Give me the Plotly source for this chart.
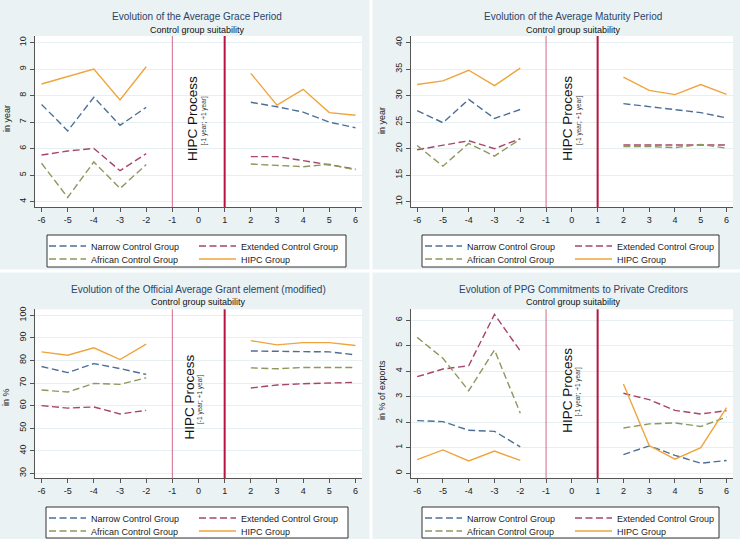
import plotly.graph_objects as go

W, H = 740, 539
FONT = "Liberation Sans, Arial, sans-serif"

# ---------------- data ----------------
years_pre = [-6, -5, -4, -3, -2]
years_post = [2, 3, 4, 5, 6]
x_ticks = list(range(-6, 7))
hipc_window = [-1, 1]

series_names = ["Narrow Control Group", "Extended Control Group",
                "African Control Group", "HIPC Group"]

# Evolution of the Average Grace Period (in year)
grace_narrow = [7.67, 6.67, 7.94, 6.88, 7.56, 7.75, 7.58, 7.38, 7.00, 6.79]
grace_extended = [5.76, 5.91, 6.01, 5.17, 5.81, 5.70, 5.70, 5.55, 5.40, 5.23]
grace_african = [5.45, 4.16, 5.50, 4.50, 5.40, 5.42, 5.38, 5.32, 5.41, 5.20]
grace_hipc = [8.44, 8.72, 9.00, 7.84, 9.09, 8.84, 7.64, 8.24, 7.36, 7.26]
grace_yticks = [4, 5, 6, 7, 8, 9, 10]

# Evolution of the Average Maturity Period (in year)
mat_narrow = [27.2, 24.9, 29.3, 25.7, 27.4, 28.5, 27.9, 27.3, 26.8, 25.8]
mat_extended = [19.8, 20.6, 21.5, 20.0, 21.9, 20.7, 20.7, 20.8, 20.8, 20.7]
mat_african = [20.6, 16.7, 21.0, 18.6, 21.8, 20.4, 20.4, 20.2, 20.8, 20.1]
mat_hipc = [32.1, 32.8, 34.8, 31.9, 35.2, 33.5, 31.0, 30.2, 32.1, 30.25]
mat_yticks = [10, 15, 20, 25, 30, 35, 40]

# Evolution of the Official Average Grant element (modified) (in %)
grant_narrow = [77.3, 74.6, 78.6, 76.4, 73.8, 84.2, 83.9, 83.9, 83.8, 82.5]
grant_extended = [60.0, 58.9, 59.4, 56.3, 57.9, 67.8, 69.1, 69.7, 70.1, 70.3]
grant_african = [66.9, 66.0, 69.8, 69.4, 72.3, 76.7, 76.3, 76.9, 76.9, 76.9]
grant_hipc = [83.8, 82.3, 85.6, 80.4, 87.2, 88.8, 86.9, 87.9, 87.9, 86.6]
grant_yticks = [30, 40, 50, 60, 70, 80, 90, 100]

# Evolution of PPG Commitments to Private Creditors (in % of exports)
ppg_narrow = [2.06, 2.02, 1.68, 1.64, 1.03, 0.73, 1.07, 0.70, 0.39, 0.50]
ppg_extended = [3.78, 4.08, 4.21, 6.22, 4.79, 3.13, 2.88, 2.46, 2.32, 2.45]
ppg_african = [5.32, 4.50, 3.23, 4.83, 2.35, 1.77, 1.93, 1.97, 1.83, 2.20]
ppg_hipc = [0.53, 0.91, 0.48, 0.87, 0.50, 3.49, 1.08, 0.55, 1.00, 2.57]
ppg_yticks = [0, 1, 2, 3, 4, 5, 6]

# ---------------- styling ----------------
colors = ["#4d6f97", "#a8456b", "#8c985c", "#efa43c"]
dashes = ["7px,3.5px", "7px,3.5px", "7px,3.5px", "solid"]
BG = "#eaf2f3"


def px(x):
    return x / W


def py(y):
    return 1 - y / H


panels = [
    dict(title="Evolution of the Average Grace Period", ytitle="in year",
         data=[grace_narrow, grace_extended, grace_african, grace_hipc],
         yticks=grace_yticks, yrange=[3.8, 10.25],
         xdom=(35, 362), ydom=(36, 207), tcx=197, ty=17,
         ytx=7, yty=119, hx=193, hy=119, sx=203.5,
         lx=44, lrows=(246, 259), box=(47, 346, 235, 267)),
    dict(title="Evolution of the Average Maturity Period", ytitle="in year",
         data=[mat_narrow, mat_extended, mat_african, mat_hipc],
         yticks=mat_yticks, yrange=[9.0, 41.26],
         xdom=(410.7, 733), ydom=(36, 207), tcx=573, ty=17,
         ytx=382, yty=120, hx=566.7, hy=118, sx=579,
         lx=420, lrows=(246, 259), box=(422, 719, 235, 267)),
    dict(title="Evolution of the Official Average Grant element (modified)", ytitle="in %",
         data=[grant_narrow, grant_extended, grant_african, grant_hipc],
         yticks=grant_yticks, yrange=[27.8, 102.65],
         xdom=(35, 362), ydom=(309.3, 478.3), tcx=198, ty=289,
         ytx=6, yty=397, hx=188.5, hy=397, sx=200,
         lx=44, lrows=(518, 531), box=(46, 348, 507, 538)),
    dict(title="Evolution of PPG Commitments to Private Creditors", ytitle="in % of exports",
         data=[ppg_narrow, ppg_extended, ppg_african, ppg_hipc],
         yticks=ppg_yticks, yrange=[-0.2, 6.42],
         xdom=(410.7, 733), ydom=(309.3, 478.3), tcx=573.5, ty=289,
         ytx=382, yty=390, hx=566.7, hy=390, sx=577.5,
         lx=420, lrows=(518, 531), box=(422, 719, 507, 538)),
]

fig = go.Figure()
layout = dict(
    width=W, height=H, margin=dict(l=0, r=0, t=0, b=0, autoexpand=False),
    paper_bgcolor=BG, plot_bgcolor="white",
    font=dict(family=FONT, size=9, color="#222222"),
    showlegend=True,
)
shapes = []
annotations = []

# panel separators
shapes.append(dict(type="line", xref="paper", yref="paper", x0=px(371), x1=px(371), y0=0, y1=1,
                   line=dict(color="white", width=3), layer="below"))
shapes.append(dict(type="line", xref="paper", yref="paper", x0=0, x1=1, y0=py(271), y1=py(271),
                   line=dict(color="white", width=3), layer="below"))

for i, p in enumerate(panels):
    n = i + 1
    xa = "x" if n == 1 else f"x{n}"
    ya = "y" if n == 1 else f"y{n}"
    xkey = "xaxis" if n == 1 else f"xaxis{n}"
    ykey = "yaxis" if n == 1 else f"yaxis{n}"
    leg_a = "legend" if i == 0 else f"legend{2 * i + 1}"
    leg_b = f"legend{2 * i + 2}"

    for k, (name, vals) in enumerate(zip(series_names, p["data"])):
        xs = years_pre + [None] + years_post
        ys = vals[:5] + [None] + vals[5:]
        fig.add_trace(go.Scatter(
            x=xs, y=ys, mode="lines", name=name,
            line=dict(color=colors[k], width=1.4, dash=dashes[k]),
            xaxis=xa, yaxis=ya, legend=leg_a if k < 2 else leg_b,
            connectgaps=False, hoverinfo="skip",
        ))

    layout[xkey] = dict(
        domain=[px(p["xdom"][0]), px(p["xdom"][1])], anchor=ya,
        range=[-6.25, 6.25], tickvals=x_ticks, ticktext=[str(v) for v in x_ticks],
        ticks="outside", ticklen=4, tickcolor="#555555", showgrid=False, zeroline=False,
        showline=True, linecolor="#555555", linewidth=1,
        tickfont=dict(size=9, color="#222222", family=FONT),
    )
    layout[ykey] = dict(
        domain=[py(p["ydom"][1]), py(p["ydom"][0])], anchor=xa,
        range=p["yrange"], tickvals=p["yticks"], tickangle=-90,
        ticks="outside", ticklen=4, tickcolor="#555555",
        showgrid=True, gridcolor="#e6eff1", gridwidth=1, zeroline=False,
        showline=True, linecolor="#555555", linewidth=1,
        tickfont=dict(size=9, color="#222222", family=FONT),
    )

    # HIPC window lines
    shapes.append(dict(type="line", xref=xa, yref=f"{ya} domain", x0=hipc_window[0], x1=hipc_window[0],
                       y0=0, y1=1, line=dict(color="#d06a8c", width=1)))
    shapes.append(dict(type="line", xref=xa, yref=f"{ya} domain", x0=hipc_window[1], x1=hipc_window[1],
                       y0=0, y1=1, line=dict(color="#b5153f", width=2)))

    # legend box
    bx0, bx1, by0, by1 = p["box"]
    shapes.append(dict(type="rect", xref="paper", yref="paper", x0=px(bx0), x1=px(bx1),
                       y0=py(by1), y1=py(by0), fillcolor="white",
                       line=dict(color="#333333", width=1), layer="below"))

    for leg, ry in ((leg_a, p["lrows"][0]), (leg_b, p["lrows"][1])):
        layout[leg] = dict(
            x=px(p["lx"]), y=py(ry), xanchor="left", yanchor="middle",
            orientation="h", entrywidth=98, entrywidthmode="pixels",
            bgcolor="rgba(0,0,0,0)", borderwidth=0,
            font=dict(size=9, color="#222222", family=FONT),
            itemwidth=37, tracegroupgap=0,
        )

    # titles
    annotations.append(dict(text=p["title"], x=px(p["tcx"]), y=py(p["ty"]), xref="paper", yref="paper",
                            showarrow=False, xanchor="center", yanchor="middle",
                            font=dict(size=10, color="#2b4468", family=FONT)))
    annotations.append(dict(text="Control group suitability", x=px(p["tcx"]), y=py(p["ty"] + 13),
                            xref="paper", yref="paper", showarrow=False, xanchor="center",
                            yanchor="middle", font=dict(size=9, color="#111111", family=FONT)))
    # y axis title
    annotations.append(dict(text=p["ytitle"], x=px(p["ytx"]), y=py(p["yty"]), xref="paper", yref="paper",
                            showarrow=False, textangle=-90, xanchor="center", yanchor="middle",
                            font=dict(size=9, color="#222222", family=FONT)))
    # HIPC process label
    annotations.append(dict(text="HIPC Process", x=px(p["hx"]), y=py(p["hy"]), xref="paper", yref="paper",
                            showarrow=False, textangle=-90, xanchor="center", yanchor="middle",
                            font=dict(size=13.5, color="#111111", family=FONT)))
    annotations.append(dict(text="[-1 year; +1 year]", x=px(p["sx"]), y=py(p["hy"] + 2), xref="paper",
                            yref="paper", showarrow=False, textangle=-90, xanchor="center",
                            yanchor="middle", font=dict(size=6.5, color="#333333", family=FONT)))

layout["shapes"] = shapes
layout["annotations"] = annotations
fig.update_layout(**layout)
fig.write_html("out.html")
